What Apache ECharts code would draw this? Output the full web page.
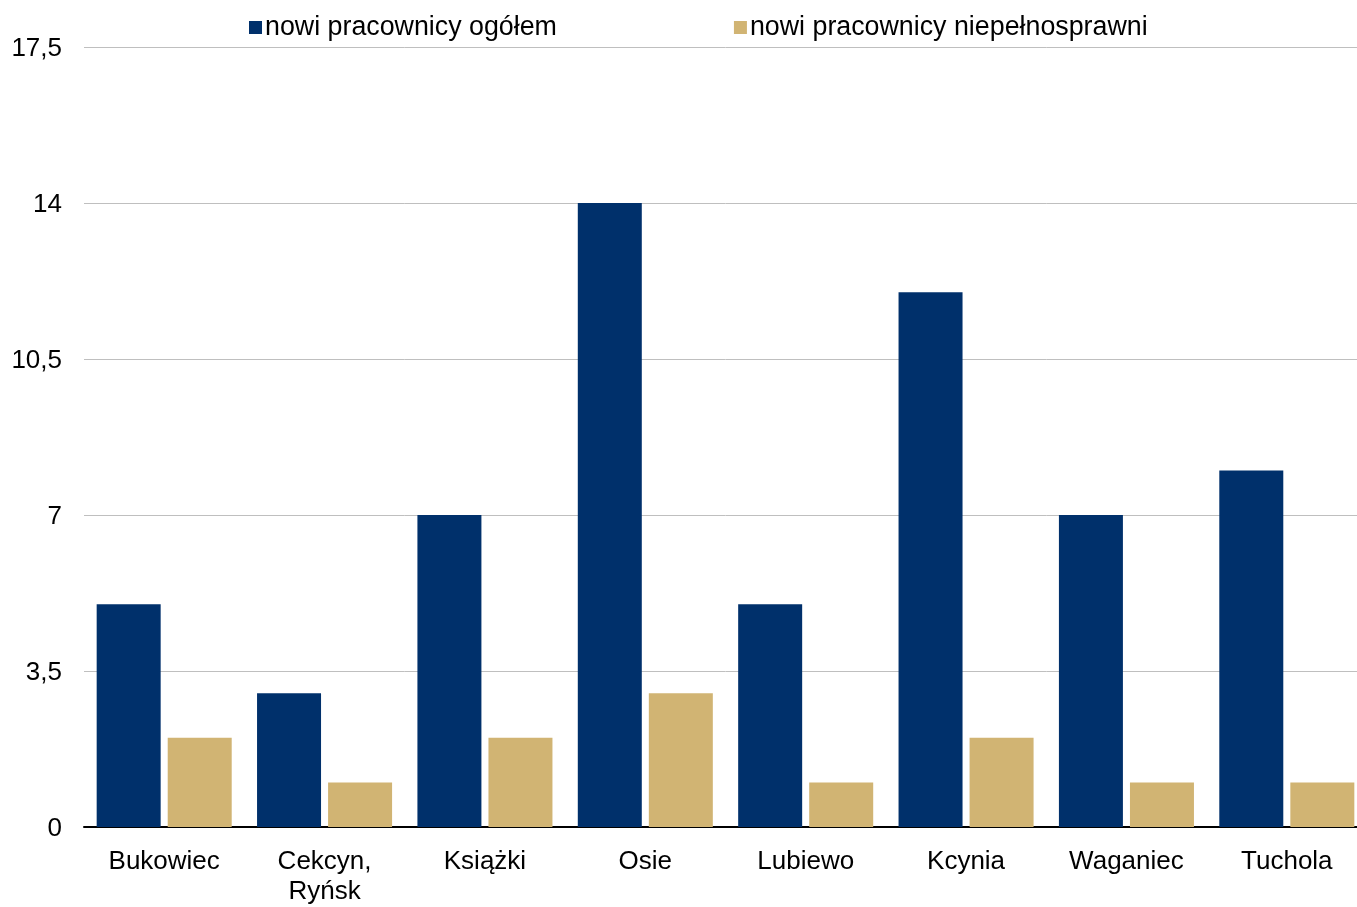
<!DOCTYPE html>
<html>
<head>
<meta charset="utf-8">
<script src="https://cdn.jsdelivr.net/npm/echarts@6/dist/echarts.min.js"></script>
<style>
html,body{margin:0;padding:0;background:#fff;overflow:hidden;}
#chart{width:1367px;height:907px;}
</style>
</head>
<body>
<div id="chart"></div>
<script>
const categories = ['Bukowiec', 'Cekcyn,\nRyńsk', 'Książki', 'Osie', 'Lubiewo', 'Kcynia', 'Waganiec', 'Tuchola'];
const seriesNames = ['nowi pracownicy ogółem', 'nowi pracownicy niepełnosprawni'];
const ogolem = [5, 3, 7, 14, 5, 12, 7, 8];
const niepelnosprawni = [2, 1, 2, 3, 1, 2, 1, 1];
const yTicks = [0, 3.5, 7, 10.5, 14, 17.5];

const FONT = 'Liberation Sans, Arial, sans-serif';
const chart = echarts.init(document.getElementById('chart'));
chart.setOption({
  animation: false,
  backgroundColor: '#fff',
  textStyle: { fontFamily: FONT },
  legend: {
    left: 249,
    top: 14,
    itemWidth: 13,
    itemHeight: 13,
    itemGap: 177,
    padding: 0,
    icon: 'rect',
    textStyle: { fontFamily: FONT, fontSize: 26.8, color: '#000', padding: [0, 0, 0, -2], lineHeight: 26 },
    data: seriesNames
  },
  grid: { left: 84, right: 0, top: 47, bottom: 78, containLabel: false },
  xAxis: {
    type: 'category',
    data: categories,
    axisLine: { lineStyle: { color: '#000', width: 2 } },
    axisTick: { show: false },
    axisLabel: { fontFamily: FONT, fontSize: 26, color: '#000', margin: 20, lineHeight: 30, interval: 0 }
  },
  yAxis: {
    type: 'value',
    min: 0,
    max: 17.5,
    interval: 3.5,
    axisLine: { show: false },
    axisTick: { show: false },
    splitLine: { lineStyle: { color: '#bfbfbf', width: 1 } },
    axisLabel: {
      fontFamily: FONT, fontSize: 26, color: '#000', margin: 22,
      formatter: function (v) {
        const t = yTicks.find(x => Math.abs(x - v) < 1e-9);
        return t === undefined ? '' : '{a|' + String(t).replace('.', ',') + '}';
      },
      rich: { a: { fontFamily: FONT, fontSize: 26, color: '#000', padding: [4, 0, 0, 0] } }
    }
  },
  series: [
    { name: seriesNames[0], type: 'bar', data: ogolem, itemStyle: { color: '#00306B' }, barGap: '11%', barCategoryGap: '15.8%' },
    { name: seriesNames[1], type: 'bar', data: niepelnosprawni, itemStyle: { color: '#D1B473' } }
  ]
});
</script>
</body>
</html>
